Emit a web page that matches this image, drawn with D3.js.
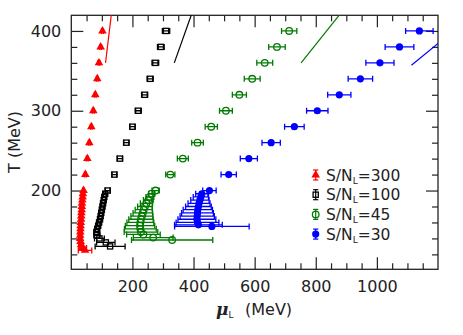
<!DOCTYPE html>
<html>
<head>
<meta charset="utf-8">
<script src="https://cdn.jsdelivr.net/npm/d3@7"></script>
<style>
  body { margin: 0; background: #fff; }
  text { font-family: "DejaVu Sans", sans-serif; }
</style>
</head>
<body>
<div id="container"></div>
<script>
/* CONSTANTS AND GLOBALS */
const width = 463,
      height = 335,
      margin = { top: 15.3, right: 25, bottom: 65.7, left: 71.3 };

/* DATA: [T, muL, err] */
const sn300 = [
  [400, 102, 3], [380, 96, 3], [360, 90.5, 3], [340, 85, 3], [320, 78.5, 3], [300, 72, 3],
  [280, 65.5, 3], [260, 59, 3], [240, 52.5, 3], [220, 46, 3], [200, 40, 3],
  [196, 38, 3], [192, 37, 3], [188, 36, 3], [184, 35, 3], [180, 34.5, 3], [176, 34, 3],
  [172, 33, 3], [168, 32.5, 3], [164, 32, 3], [160, 31, 3], [156, 30.5, 4], [152, 30, 4],
  [148, 29.5, 4], [144, 29, 5], [140, 29, 5], [136, 30, 6], [132, 32, 8], [128, 38, 12], [125, 45, 22]
];
const sn100 = [
  [400, 310, 12], [380, 293, 11], [360, 275, 11], [340, 258, 10], [320, 240, 10], [300, 219, 10],
  [280, 200, 9], [260, 180, 9], [240, 159, 9], [220, 141, 8], [200, 119, 8],
  [196, 111, 6], [192, 108, 6], [188, 106, 6], [184, 104, 6], [180, 102, 6], [176, 100, 6],
  [172, 98, 6], [168, 96, 6], [164, 94, 6], [160, 91, 6], [156, 88, 6], [152, 85, 6],
  [148, 82, 6], [144, 84, 10], [140, 92, 16], [135, 113, 30], [130, 127, 49]
];
const sn45 = [
  [400, 713, 25], [380, 673, 27], [360, 633, 26], [340, 592, 26], [320, 550, 23], [300, 506, 21],
  [280, 458, 20], [260, 413, 19], [240, 365, 18], [220, 324, 15], [200, 276, 12],
  [196, 263, 10], [192, 257, 13], [188, 252, 16], [184, 246, 20], [180, 241, 24], [176, 237, 28],
  [172, 234, 32], [168, 231, 36], [164, 228, 40], [160, 226, 44], [156, 225, 48], [152, 226, 52],
  [148, 228, 55], [145, 236, 55], [141, 268, 65], [138, 330, 133]
];
const sn30 = [
  [400, 1139, 45], [380, 1074, 47], [360, 1010, 46], [340, 946, 40], [320, 877, 38], [300, 805, 35],
  [280, 730, 32], [260, 654, 30], [240, 581, 28], [220, 515, 25], [200, 452, 22],
  [196, 427, 20], [192, 424, 25], [188, 421, 30], [184, 418, 36], [180, 416, 42], [176, 414, 48],
  [172, 413, 52], [168, 412, 56], [164, 411, 62], [160, 413, 70], [157, 416, 78], [155, 460, 122]
];

/* free-gas lines, [muL, T] end points */
const line300 = [[112, 360], [134, 430]];
const line100 = [[337, 360], [402, 430]];
const line45 = [[752, 360], [898, 430]];
const line30 = [[1113, 357], [1250, 400]];

const labels = ["300", "100", "45", "30"];
const colors = ["#ff0000", "#000000", "#007a00", "#0000ff"];
const shapes = ["triangle", "square", "circle", "dot"];

const muMajor = [200, 400, 600, 800, 1000];
const muMinor = d3.range(50, 1200, 50).filter(v => v % 200 !== 0);
const tMajor = [200, 300, 400];
const tMinor = d3.range(120, 420, 20).filter(v => v % 100 !== 0);

/* SCALES */
const xScale = d3.scaleLinear()
  .domain([0, 1200])
  .range([margin.left, width - margin.right]);

const yScale = d3.scaleLinear()
  .domain([101.3, 419.6])
  .range([height - margin.bottom, margin.top]);

/* SVG SETUP */
const svg = d3.select("#container").append("svg")
  .attr("width", width)
  .attr("height", height);

svg.append("clipPath").attr("id", "clip")
  .append("rect")
  .attr("x", margin.left).attr("y", margin.top)
  .attr("width", width - margin.left - margin.right)
  .attr("height", height - margin.top - margin.bottom);

/* AXES */
const axisColor = "#222";
function styleAxis(g) {
  g.select(".domain").remove();
  g.selectAll(".tick line").attr("stroke", axisColor).attr("stroke-width", 1.2);
  g.selectAll(".tick text").attr("fill", "#222").style("font-size", "16px");
}

const bottomY = height - margin.bottom,
      rightX = width - margin.right,
      fmt = d3.format("d");

svg.append("g")
  .attr("transform", `translate(0,${bottomY})`)
  .call(d3.axisBottom(xScale).tickValues(muMajor).tickSize(-12).tickPadding(11.6).tickFormat(fmt))
  .call(styleAxis);
svg.append("g")
  .attr("transform", `translate(0,${bottomY})`)
  .call(d3.axisBottom(xScale).tickValues(muMinor).tickSize(-6).tickFormat(""))
  .call(styleAxis);
svg.append("g")
  .attr("transform", `translate(0,${margin.top})`)
  .call(d3.axisTop(xScale).tickValues(muMajor).tickSize(-12).tickFormat(""))
  .call(styleAxis);
svg.append("g")
  .attr("transform", `translate(0,${margin.top})`)
  .call(d3.axisTop(xScale).tickValues(muMinor).tickSize(-6).tickFormat(""))
  .call(styleAxis);

svg.append("g")
  .attr("transform", `translate(${margin.left},0)`)
  .call(d3.axisLeft(yScale).tickValues(tMajor).tickSize(-12).tickPadding(10).tickFormat(fmt))
  .call(styleAxis);
svg.append("g")
  .attr("transform", `translate(${margin.left},0)`)
  .call(d3.axisLeft(yScale).tickValues(tMinor).tickSize(-6).tickFormat(""))
  .call(styleAxis);
svg.append("g")
  .attr("transform", `translate(${rightX},0)`)
  .call(d3.axisRight(yScale).tickValues(tMajor).tickSize(-12).tickFormat(""))
  .call(styleAxis);
svg.append("g")
  .attr("transform", `translate(${rightX},0)`)
  .call(d3.axisRight(yScale).tickValues(tMinor).tickSize(-6).tickFormat(""))
  .call(styleAxis);

svg.append("rect")
  .attr("x", margin.left).attr("y", margin.top)
  .attr("width", rightX - margin.left)
  .attr("height", bottomY - margin.top)
  .attr("fill", "none")
  .attr("stroke", axisColor)
  .attr("stroke-width", 1.3);

/* AXIS LABELS */
const xLabel = svg.append("text")
  .attr("x", 216)
  .attr("y", 315)
  .attr("fill", "#222")
  .style("font-size", "16px");
xLabel.append("tspan")
  .style("font-family", "'DejaVu Serif', serif")
  .style("font-style", "italic")
  .style("font-weight", "bold")
  .style("font-size", "17px")
  .text("μ");
xLabel.append("tspan")
  .attr("dy", 3)
  .style("font-size", "9px")
  .text("L");
xLabel.append("tspan")
  .attr("dy", -3)
  .attr("x", 245)
  .text("(MeV)");

svg.append("text")
  .attr("transform", "translate(20,142) rotate(-90)")
  .attr("text-anchor", "middle")
  .attr("fill", "#222")
  .style("font-size", "16px")
  .text("T (MeV)");

/* DRAW THEORY LINES */
const plot = svg.append("g").attr("clip-path", "url(#clip)");
const lineGen = d3.line().x(d => xScale(d[0])).y(d => yScale(d[1]));
[line300, line100, line45, line30].forEach((ln, i) => {
  plot.append("path")
    .attr("d", lineGen(ln))
    .attr("fill", "none")
    .attr("stroke", colors[i])
    .attr("stroke-width", 1.2);
});

/* DRAW POINTS WITH ERROR BARS */
function drawMarker(g, shape, color, cx, cy) {
  if (shape === "triangle") {
    g.append("path")
      .attr("d", d3.symbol(d3.symbolTriangle, 32)())
      .attr("transform", `translate(${cx},${cy})`)
      .attr("fill", color);
  } else if (shape === "square") {
    g.append("rect")
      .attr("x", cx - 2.6).attr("y", cy - 2.6)
      .attr("width", 5.2).attr("height", 5.2)
      .attr("fill", "none").attr("stroke", color).attr("stroke-width", 1.3);
  } else if (shape === "circle") {
    g.append("circle")
      .attr("cx", cx).attr("cy", cy).attr("r", 3.3)
      .attr("fill", "none").attr("stroke", color).attr("stroke-width", 1.3);
  } else {
    g.append("circle")
      .attr("cx", cx).attr("cy", cy).attr("r", 3.6)
      .attr("fill", color);
  }
}

[sn300, sn100, sn45, sn30].forEach((series, i) => {
  const g = plot.append("g");
  series.forEach(d => {
    const cy = yScale(d[0]),
          x0 = xScale(d[1] - d[2]),
          x1 = xScale(d[1] + d[2]);
    g.append("line")
      .attr("x1", x0).attr("x2", x1).attr("y1", cy).attr("y2", cy)
      .attr("stroke", colors[i]).attr("stroke-width", 1.3);
    [x0, x1].forEach(cx => {
      g.append("line")
        .attr("x1", cx).attr("x2", cx).attr("y1", cy - 3).attr("y2", cy + 3)
        .attr("stroke", colors[i]).attr("stroke-width", 1.3);
    });
    drawMarker(g, shapes[i], colors[i], xScale(d[1]), cy);
  });
});

/* LEGEND */
const legend = svg.append("g");
labels.forEach((lab, i) => {
  const ly = 175 + i * 19.7,
        lx = 315.7;
  legend.append("line")
    .attr("x1", lx).attr("x2", lx).attr("y1", ly - 5).attr("y2", ly + 5)
    .attr("stroke", colors[i]).attr("stroke-width", 1.2);
  [ly - 5, ly + 5].forEach(cy => {
    legend.append("line")
      .attr("x1", lx - 2.6).attr("x2", lx + 2.6).attr("y1", cy).attr("y2", cy)
      .attr("stroke", colors[i]).attr("stroke-width", 1.2);
  });
  drawMarker(legend, shapes[i], colors[i], lx, ly);
  const t = legend.append("text")
    .attr("x", 326)
    .attr("y", ly + 5.5)
    .attr("fill", "#222")
    .style("font-size", "15.5px");
  t.append("tspan").text("S/N");
  t.append("tspan").attr("dy", 3).style("font-size", "9px").text("L");
  t.append("tspan").attr("dy", -3).text("=" + lab);
});
</script>
</body>
</html>
